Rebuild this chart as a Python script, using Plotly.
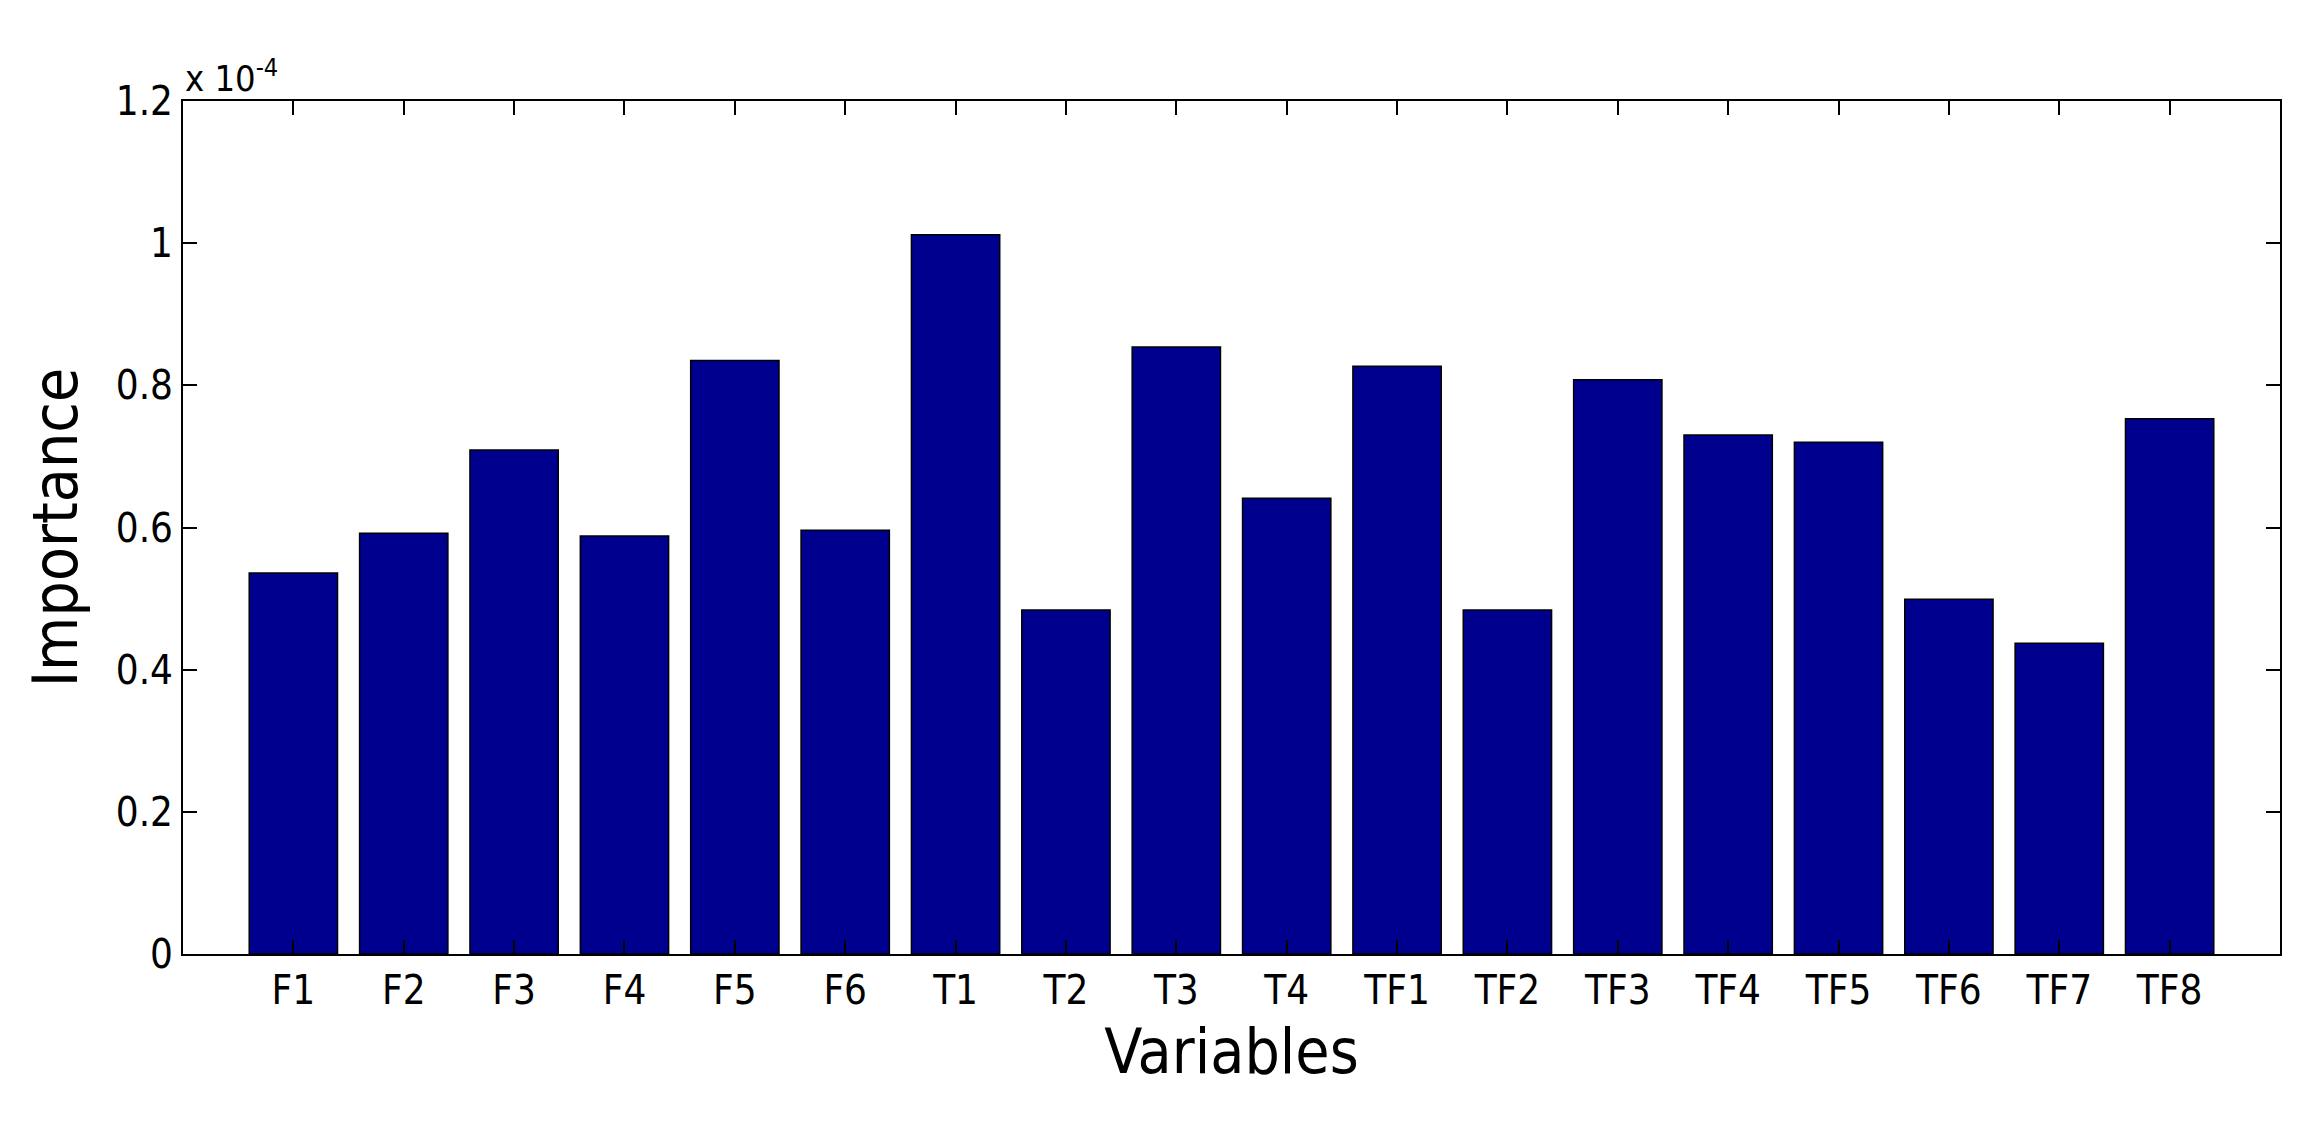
import plotly.graph_objects as go

variables = ["F1", "F2", "F3", "F4", "F5", "F6", "T1", "T2", "T3", "T4",
             "TF1", "TF2", "TF3", "TF4", "TF5", "TF6", "TF7", "TF8"]
# importance, in units of 1e-4
importance = [0.536, 0.592, 0.709, 0.588, 0.835, 0.596, 1.012, 0.484, 0.854, 0.641,
              0.827, 0.484, 0.808, 0.730, 0.720, 0.499, 0.437, 0.753]
ytick_vals = [0, 0.2, 0.4, 0.6, 0.8, 1.0, 1.2]
ytick_text = ["0", "0.2", "0.4", "0.6", "0.8", "1", "1.2"]

fnt = "Liberation Sans Narrow, DejaVu Sans Condensed, Roboto Condensed, Arial Narrow, sans-serif"

fig = go.Figure(go.Bar(
    x=list(range(len(variables))), y=importance, width=0.8,
    marker=dict(color="#00008F", line=dict(color="black", width=1.5)),
))

axis_common = dict(showline=True, linecolor="black", linewidth=2, mirror="allticks",
                   ticks="inside", ticklen=14, tickcolor="black", tickwidth=2,
                   showgrid=False, zeroline=False,
                   tickfont=dict(family=fnt, size=40, color="black"))

fig.update_xaxes(range=[-1, 18], tickvals=list(range(len(variables))), ticktext=variables,
                 title=dict(text="Variables", font=dict(family=fnt, size=62, color="black"), standoff=18),
                 **axis_common)
fig.update_yaxes(range=[0, 1.2], tickvals=ytick_vals, ticktext=ytick_text,
                 title=dict(text="Importance", font=dict(family=fnt, size=62, color="black"), standoff=18),
                 **axis_common)

fig.add_annotation(xref="paper", yref="paper", x=0, y=1.0, xanchor="left", yanchor="bottom",
                   text="x 10<sup>-4</sup>", showarrow=False,
                   font=dict(family=fnt, size=36, color="black"))

fig.update_layout(width=2303, height=1121, plot_bgcolor="white", paper_bgcolor="white",
                  showlegend=False, margin=dict(l=175, r=31, t=93, b=175))

fig.write_html("out.html")
